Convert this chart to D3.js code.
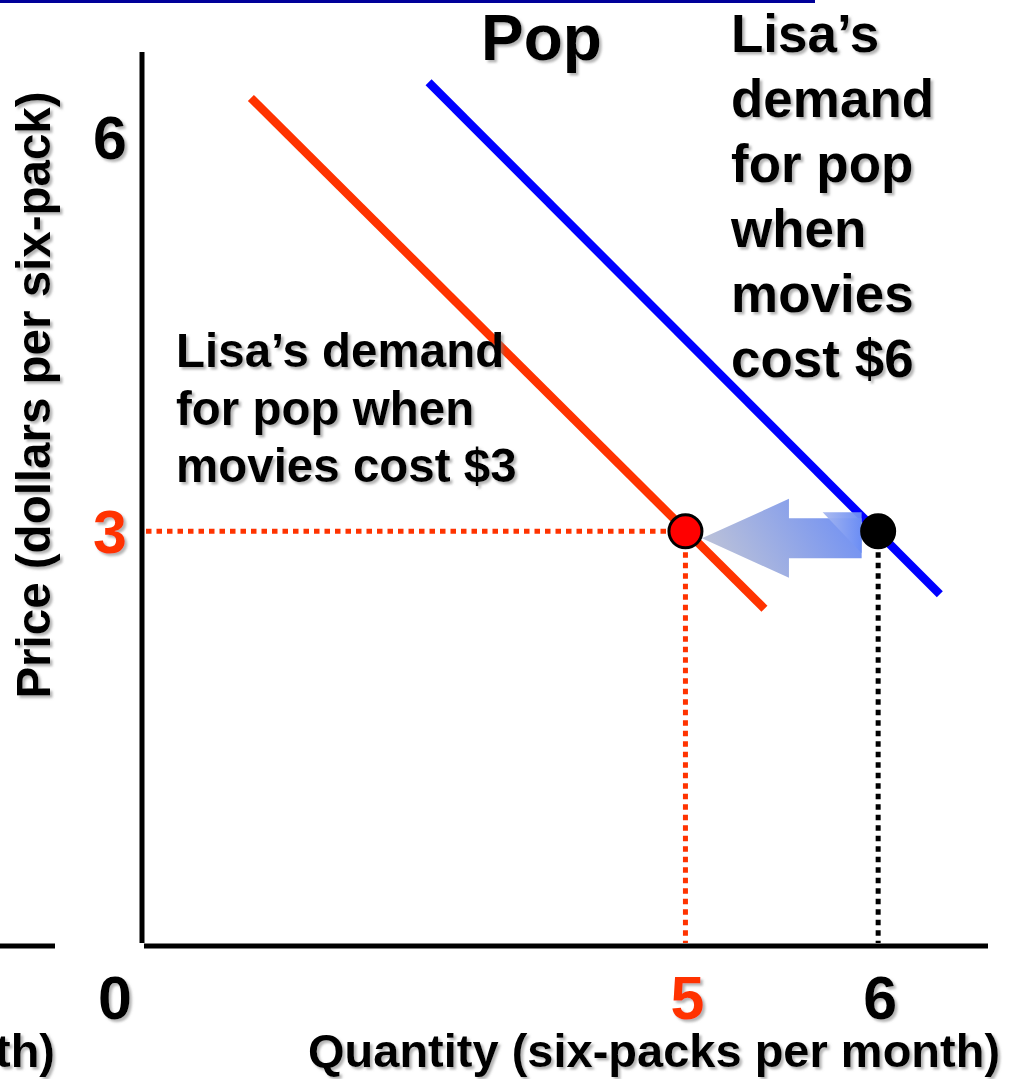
<!DOCTYPE html>
<html>
<head>
<meta charset="utf-8">
<script src="https://cdn.jsdelivr.net/npm/d3@7"></script>
<style>
  html, body { margin: 0; padding: 0; background: #fff; }
  svg { display: block; }
  text { font-family: "Liberation Sans", Arial, sans-serif; font-weight: bold; }
</style>
</head>
<body>
<script>
// ---- data ----
const priceTicks = [3, 6];
const priceTickColors = ["#ff3300", "#000000"];
const quantityTicks = [5, 6];
const quantityTickColors = ["#ff3300", "#000000"];

// demand for pop when movies cost $3 (quantity, price)
const demandMovies3 = [[2.745, 6.30], [5.41, 2.41]];
// demand for pop when movies cost $6
const demandMovies6 = [[3.667, 6.42], [6.32, 2.52]];

// chosen points at price $3
const choiceQuantity = [5, 6];
const choicePrice = [3, 3];
const choiceFill = ["#ff0000", "#000000"];
const guideColors = ["#ff3300", "#000000"];

const chartTitle = "Pop";
const noteMovies6 = ["Lisa’s", "demand", "for pop", "when", "movies", "cost $6"];
const noteMovies3 = ["Lisa’s demand", "for pop when", "movies cost $3"];
const xTitle = "Quantity (six-packs per month)";
const yTitle = "Price (dollars per six-pack)";
const originLabel = "0";

// ---- layout ----
const W = 1019, H = 1079;
const axisX = 142, axisY = 945, axisTop = 52, axisRight = 988;

const x = d3.scaleLinear().domain([2.18, 6.57]).range([axisX, axisRight]);
const y = d3.scaleLinear().domain([-0.15, 6.65]).range([axisY, axisTop]);

const svg = d3.select("body").append("svg")
  .attr("width", W).attr("height", H)
  .attr("viewBox", `0 0 ${W} ${H}`);

const defs = svg.append("defs");
const shadow = defs.append("filter").attr("id", "txtShadow")
  .attr("x", "-10%").attr("y", "-10%").attr("width", "130%").attr("height", "130%");
shadow.append("feDropShadow")
  .attr("dx", 2.5).attr("dy", 2.5).attr("stdDeviation", 0.9)
  .attr("flood-color", "#777").attr("flood-opacity", 0.55);

// slide header rule and neighbouring panel fragment
svg.append("line").attr("x1", 0).attr("x2", 815).attr("y1", 1.5).attr("y2", 1.5)
  .attr("stroke", "#000099").attr("stroke-width", 3);
svg.append("line").attr("x1", 0).attr("x2", 55).attr("y1", axisY + 1).attr("y2", axisY + 1)
  .attr("stroke", "#000").attr("stroke-width", 5);
svg.append("text").attr("x", 55).attr("y", 1067).attr("text-anchor", "end")
  .attr("font-size", 47).attr("filter", "url(#txtShadow)").text("th)");

// axes
svg.append("line").attr("x1", axisX).attr("x2", axisX).attr("y1", axisTop).attr("y2", axisY - 2)
  .attr("stroke", "#000").attr("stroke-width", 5);
svg.append("line").attr("x1", axisX + 2).attr("x2", axisRight).attr("y1", axisY + 1).attr("y2", axisY + 1)
  .attr("stroke", "#000").attr("stroke-width", 5);

// dotted guides from each chosen point to the axes
const guides = svg.append("g").attr("stroke-width", 5).attr("stroke-dasharray", "5.5 5").attr("fill", "none");
guides.append("line")
  .attr("x1", axisX + 4).attr("x2", x(choiceQuantity[0]))
  .attr("y1", y(choicePrice[0])).attr("y2", y(choicePrice[0]))
  .attr("stroke", guideColors[0]);
choiceQuantity.forEach((q, i) => {
  guides.append("line")
    .attr("x1", x(q)).attr("x2", x(q))
    .attr("y1", y(choicePrice[i])).attr("y2", axisY - 2)
    .attr("stroke", guideColors[i]);
});

// demand curves
const line = d3.line().x(d => x(d[0])).y(d => y(d[1]));
svg.append("path").attr("d", line(demandMovies3))
  .attr("fill", "none").attr("stroke", "#ff3300").attr("stroke-width", 8.5);
svg.append("path").attr("d", line(demandMovies6))
  .attr("fill", "none").attr("stroke", "#0000ff").attr("stroke-width", 8.5);

// shift arrow from the $6 choice back to the $3 choice
const grad = defs.append("linearGradient").attr("id", "arrowFill")
  .attr("gradientUnits", "userSpaceOnUse")
  .attr("x1", 725).attr("y1", 580).attr("x2", 860).attr("y2", 500);
grad.append("stop").attr("offset", "0%").attr("stop-color", "#bcc2d8");
grad.append("stop").attr("offset", "100%").attr("stop-color", "#6a8cf6");
const foldGrad = defs.append("linearGradient").attr("id", "foldFill")
  .attr("x1", "0%").attr("y1", "0%").attr("x2", "100%").attr("y2", "0%");
foldGrad.append("stop").attr("offset", "0%").attr("stop-color", "#a6b7ef");
foldGrad.append("stop").attr("offset", "100%").attr("stop-color", "#6b8df5");

const r = 16.5;
const tipX = x(choiceQuantity[0]) + r, tailX = x(choiceQuantity[1]) - r;
const cy = y(choicePrice[0]) + 7;
const headX = tipX + 87;
const arrowPts = [
  [tipX, cy], [headX, cy - 39.5], [headX, cy - 20], [tailX, cy - 20],
  [tailX, cy + 20], [headX, cy + 20], [headX, cy + 39.5]
];
svg.append("path").attr("d", "M" + arrowPts.join("L") + "Z").attr("fill", "url(#arrowFill)");
svg.append("path")
  .attr("d", `M${tailX - 39},${cy - 26}L${tailX},${cy - 26}L${tailX},${cy + 15}Z`)
  .attr("fill", "url(#foldFill)").attr("opacity", 0.95);

// chosen points
svg.append("g").selectAll("circle").data(choiceQuantity).join("circle")
  .attr("cx", d => x(d)).attr("cy", (d, i) => y(choicePrice[i]))
  .attr("r", r).attr("fill", (d, i) => choiceFill[i])
  .attr("stroke", "#000").attr("stroke-width", 3);

// tick labels
const labels = svg.append("g").attr("filter", "url(#txtShadow)");
labels.selectAll(".ytick").data(priceTicks).join("text").attr("class", "ytick")
  .attr("x", axisX - 32).attr("y", d => y(d) + 22).attr("text-anchor", "middle")
  .attr("font-size", 61).attr("fill", (d, i) => priceTickColors[i]).text(d => d);
labels.selectAll(".xtick").data(quantityTicks).join("text").attr("class", "xtick")
  .attr("x", d => x(d) + 2).attr("y", 1019).attr("text-anchor", "middle")
  .attr("font-size", 61).attr("fill", (d, i) => quantityTickColors[i]).text(d => d);
labels.append("text").attr("x", axisX - 27).attr("y", 1019).attr("text-anchor", "middle")
  .attr("font-size", 61).text(originLabel);

// axis titles
labels.append("text").attr("x", 308).attr("y", 1067).attr("font-size", 47).text(xTitle);
labels.append("text").attr("transform", "translate(50,395) rotate(-90)")
  .attr("text-anchor", "middle").attr("font-size", 47.5).text(yTitle);

// title and curve notes
labels.append("text").attr("x", 481).attr("y", 60).attr("font-size", 64).text(chartTitle);
labels.append("text").attr("font-size", 53).selectAll("tspan").data(noteMovies6).join("tspan")
  .attr("x", 731).attr("y", (d, i) => 52 + i * 65).text(d => d);
labels.append("text").attr("font-size", 47.5).selectAll("tspan").data(noteMovies3).join("tspan")
  .attr("x", 176).attr("y", (d, i) => 367 + i * 57.5).text(d => d);
</script>
</body>
</html>
